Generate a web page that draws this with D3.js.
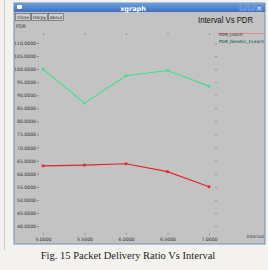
<!DOCTYPE html>
<html>
<head>
<meta charset="utf-8">
<script src="https://cdn.jsdelivr.net/npm/d3@7"></script>
<style>
  html, body { margin: 0; padding: 0; background: #f3f2ee; }
  svg { display: block; }
</style>
</head>
<body>
<svg id="chart" width="268" height="270"></svg>
<script>
// data
var intervals = [5.0, 5.5, 6.0, 6.5, 7.0];
var pdrLeach = [63.0, 63.3, 63.8, 60.8, 55.0];
var pdrGenetic = [100.0, 87.0, 97.5, 99.5, 93.5];
var yTicks = [40, 45, 50, 55, 60, 65, 70, 75, 80, 85, 90, 95, 100, 105, 110];
var xTicks = [5.0, 5.5, 6.0, 6.5, 7.0];
var seriesNames = ['PDR_Leach', 'PDR_Genetic_ELeach'];
var seriesColors = ['#e0262a', '#3fe08a'];

var svg = d3.select('#chart');
var fmt = d3.format('.4f');

// left page strip
svg.append('line').attr('x1', 4.5).attr('x2', 4.5).attr('y1', 0).attr('y2', 250)
  .attr('stroke', '#c9c9c4').attr('stroke-width', 1);

// window
svg.append('rect').attr('x', 14).attr('y', 3).attr('width', 251).attr('height', 241)
  .attr('fill', '#c3c3c3').attr('stroke', '#6f8fb8').attr('stroke-width', 1);

var grad = svg.append('defs').append('linearGradient').attr('id', 'tb')
  .attr('x1', 0).attr('x2', 0).attr('y1', 0).attr('y2', 1);
grad.append('stop').attr('offset', '0%').attr('stop-color', '#6d9fdc');
grad.append('stop').attr('offset', '100%').attr('stop-color', '#3b6fc2');
svg.append('rect').attr('x', 14).attr('y', 3).attr('width', 251).attr('height', 9)
  .attr('fill', 'url(#tb)');
svg.append('rect').attr('x', 17).attr('y', 5).attr('width', 5).attr('height', 4)
  .attr('fill', '#ffffff').attr('rx', 1);
svg.append('text').attr('x', 133).attr('y', 10.5).attr('text-anchor', 'middle')
  .attr('font-family', 'DejaVu Sans, sans-serif').attr('font-size', 6.5)
  .attr('font-weight', 'bold').attr('fill', '#ffffff').text('xgraph');
// title bar buttons
[243, 251, 259].forEach(function(bx, i) {
  svg.append('rect').attr('x', bx - 3).attr('y', 4.5).attr('width', 6).attr('height', 6)
    .attr('fill', i == 2 ? '#4f7fcf' : '#5d8ed6').attr('stroke', '#8fb2e6').attr('stroke-width', 0.5);
});
svg.append('text').attr('x', 259).attr('y', 10).attr('text-anchor', 'middle')
  .attr('font-family', 'DejaVu Sans, sans-serif').attr('font-size', 6).attr('font-weight', 'bold')
  .attr('fill', '#ffffff').text('×');

// xgraph buttons
var btns = [['Close', 15, 15], ['Hdcpy', 31, 16], ['About', 48, 15]];
btns.forEach(function(b) {
  svg.append('rect').attr('x', b[1] + 0.5).attr('y', 13.5).attr('width', b[2]).attr('height', 7)
    .attr('fill', '#cfcfcf').attr('stroke', '#555').attr('stroke-width', 0.6);
  svg.append('text').attr('x', b[1] + b[2] / 2 + 0.5).attr('y', 19)
    .attr('text-anchor', 'middle').attr('font-family', 'DejaVu Sans, sans-serif')
    .attr('font-size', 4.3).attr('fill', '#222').text(b[0]);
});

svg.append('text').attr('x', 16).attr('y', 28).attr('font-family', 'DejaVu Sans, sans-serif')
  .attr('font-size', 4.8).attr('fill', '#333').text('PDR');
svg.append('text').attr('x', 198).attr('y', 22.5)
  .attr('font-family', 'Liberation Sans, Arial, sans-serif').attr('font-size', 9.5)
  .attr('textLength', 55).attr('lengthAdjust', 'spacingAndGlyphs')
  .attr('fill', '#111').text('Interval Vs PDR');

// scales
var x = d3.scaleLinear().domain([5, 7]).range([43, 209]);
var y = d3.scaleLinear().domain([40, 110]).range([226, 43]);

// left axis labels "110.0000-"
var yAxis = d3.axisLeft(y).tickValues(yTicks).tickFormat(fmt).tickSize(2).tickPadding(1);
var gy = svg.append('g').attr('transform', 'translate(39,0)').call(yAxis);
gy.select('.domain').remove();
gy.selectAll('line').attr('stroke', '#444').attr('stroke-width', 0.5);
gy.selectAll('text').attr('font-family', 'DejaVu Sans, sans-serif').attr('font-size', 4.6).attr('fill', '#333');

// right side tick marks
var gyr = svg.append('g').attr('transform', 'translate(217,0)')
  .call(d3.axisLeft(y).tickValues(yTicks).tickFormat('').tickSize(2));
gyr.select('.domain').remove();
gyr.selectAll('line').attr('stroke', '#666').attr('stroke-width', 0.5);

// bottom axis labels
var xAxis = d3.axisTop(x).tickValues(xTicks).tickFormat(fmt).tickSize(2).tickPadding(0);
var gx = svg.append('g').attr('transform', 'translate(0,235)').call(xAxis);
gx.select('.domain').remove();
gx.selectAll('line').attr('stroke', '#666').attr('stroke-width', 0.5);
gx.selectAll('text').attr('transform', 'translate(0,8)')
  .attr('font-family', 'DejaVu Sans, sans-serif').attr('font-size', 4.6).attr('fill', '#333');

// top tick marks
var gxt = svg.append('g').attr('transform', 'translate(0,35)')
  .call(d3.axisTop(x).tickValues(xTicks).tickFormat('').tickSize(2));
gxt.select('.domain').remove();
gxt.selectAll('line').attr('stroke', '#666').attr('stroke-width', 0.5);

svg.append('text').attr('x', 264).attr('y', 238).attr('text-anchor', 'end')
  .attr('font-family', 'DejaVu Sans, sans-serif').attr('font-size', 4.6).attr('fill', '#333').text('Interval');

// lines
var series = [pdrLeach, pdrGenetic];
var line = d3.line().x(function(d, i) { return x(intervals[i]); }).y(function(d) { return y(d); });
series.forEach(function(vals, k) {
  svg.append('path').datum(vals).attr('d', line).attr('fill', 'none')
    .attr('stroke', seriesColors[k]).attr('stroke-width', 1.1);
  svg.selectAll('.pt' + k).data(vals).enter().append('rect').attr('class', 'pt' + k)
    .attr('x', function(d, i) { return x(intervals[i]) - 1.3; })
    .attr('y', function(d) { return y(d) - 1.3; })
    .attr('width', 2.6).attr('height', 2.6).attr('fill', seriesColors[k]);
});

// legend
var legY = [33.5, 41];
seriesNames.forEach(function(name, k) {
  svg.append('line').attr('x1', 218).attr('x2', 264).attr('y1', legY[k]).attr('y2', legY[k])
    .attr('stroke', k == 0 ? '#e58a8a' : '#8fe0bb').attr('stroke-width', 1);
  svg.append('text').attr('x', 219).attr('y', legY[k] + 2.3)
    .attr('font-family', 'DejaVu Sans, sans-serif').attr('font-size', 4.3).attr('fill', '#333').text(name);
});

// caption
svg.append('text').attr('x', 128).attr('y', 259).attr('text-anchor', 'middle')
  .attr('font-family', 'Liberation Serif, Times New Roman, serif').attr('font-size', 10.5)
  .attr('fill', '#222').text('Fig. 15 Packet Delivery Ratio Vs Interval');
</script>
</body>
</html>
